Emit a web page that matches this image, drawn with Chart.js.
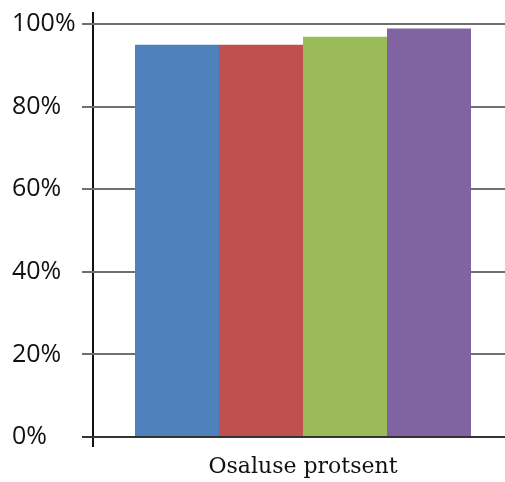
<!DOCTYPE html>
<html>
<head>
<meta charset="utf-8">
<script src="https://cdn.jsdelivr.net/npm/chart.js@4"></script>
<style>
  html, body { margin: 0; padding: 0; background: #fff; overflow: hidden; }
  /* plot runs past the right edge, like the original crop */
  #wrap { width: 513px; height: 482px; }
</style>
</head>
<body>
<div id="wrap"><canvas id="chart"></canvas></div>
<script>
// Data
const categories = ['Osaluse protsent'];
const seriesNames = ['Seeria 1', 'Seeria 2', 'Seeria 3', 'Seeria 4'];
const seriesValues = [[95], [95], [96.9], [98.9]];
const seriesColors = ['#4F81BD', '#C0504D', '#9BBB59', '#8064A2'];
const yTicks = [0, 20, 40, 60, 80, 100];

const tickFont = { family: "'Open Sans', sans-serif", size: 25 };
const catFont = { family: "'DejaVu Serif', serif", size: 22 };

const datasets = seriesNames.map((name, i) => ({
    label: name,
    data: seriesValues[i],
    backgroundColor: seriesColors[i],
    borderWidth: 0,
    categoryPercentage: 0.8,
    barPercentage: 1.0
}));

new Chart(document.getElementById('chart'), {
    type: 'bar',
    data: { labels: categories, datasets },
    options: {
        responsive: true,
        maintainAspectRatio: false,
        animation: false,
        layout: { padding: { left: 12, top: 12, right: 0, bottom: 0 } },
        plugins: {
            legend: { display: false },
            tooltip: { enabled: false }
        },
        scales: {
            x: {
                offset: true,
                grid: {
                    offset: true,
                    color: '#111',
                    lineWidth: 2,
                    tickLength: 10
                },
                border: { display: true, color: '#333', width: 2 },
                ticks: { color: '#111', font: catFont, padding: 7 },
                afterFit: scale => { scale.height = 45; }
            },
            y: {
                min: 0,
                max: 102.9,
                afterBuildTicks: scale => {
                    scale.ticks = yTicks.map(v => ({ value: v }));
                },
                grid: {
                    color: ctx => ctx.tick && ctx.tick.value === 0 ? '#333' : '#6f6f6f',
                    lineWidth: 2,
                    tickLength: 11
                },
                border: { display: false },
                ticks: {
                    color: '#111',
                    font: tickFont,
                    crossAlign: 'far',
                    padding: 2,
                    callback: v => v + '%'
                },
                afterFit: scale => {
                    scale.width = 81;
                    scale.paddingTop = 0;
                    scale.paddingBottom = 0;
                }
            }
        }
    }
});
</script>
</body>
</html>
